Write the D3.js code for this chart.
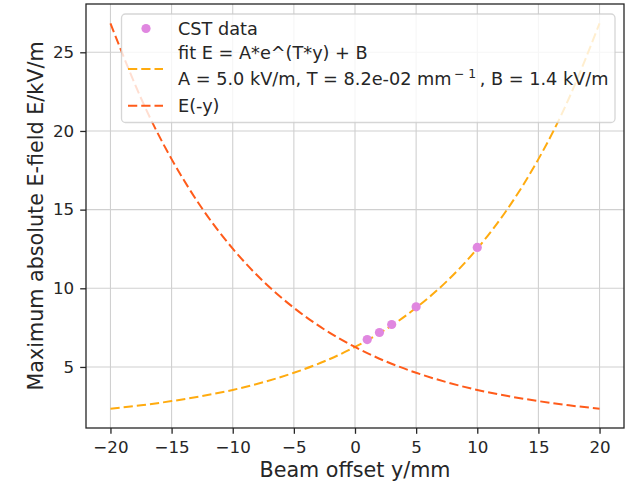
<!DOCTYPE html>
<html><head><meta charset="utf-8">
<script src="https://cdn.jsdelivr.net/npm/d3@7"></script>
<style>body{margin:0;background:#fff}svg{display:block}text{font-family:"DejaVu Sans",sans-serif;fill:#262626}</style>
</head><body><svg id="c" width="628" height="487"></svg>
<script>
// CST data points
const cstX = [1, 2, 3, 5, 10];
const cstY = [6.74, 7.19, 7.70, 8.82, 12.60];
// fit curve
const fitX = [-20,-17.5,-15,-12.5,-10,-7.5,-5,-2.5,0,2.5,5,7.5,10,12.5,15,17.5,20];
const fitY = [2.35,2.56,2.83,3.15,3.54,4.03,4.63,5.36,6.27,7.38,8.76,10.44,12.52,15.07,18.21,22.08,26.84];
// mirrored curve E(-y)
const mirY = [26.84,22.08,18.21,15.07,12.52,10.44,8.76,7.38,6.27,5.36,4.63,4.03,3.54,3.15,2.83,2.56,2.35];
const xTicks = [-20,-15,-10,-5,0,5,10,15,20];
const yTicks = [5,10,15,20,25];
const legendLabels = ["CST data", "fit E = A*e^(T*y) + B", "E(-y)"];

const svg = d3.select("#c");
const L=86, R=624, T=4, B=428;
const x = d3.scaleLinear().domain([-22,22]).range([L,R]);
const y = d3.scaleLinear().domain([1.12,28.07]).range([B,T]);
const fmt = d => (d<0?"\u2212":"")+Math.abs(d);

// grid
svg.append("g").selectAll("line").data(xTicks).join("line")
  .attr("x1",d=>x(d)).attr("x2",d=>x(d)).attr("y1",T).attr("y2",B)
  .attr("stroke","#d0d0d0").attr("stroke-width",1.1);
svg.append("g").selectAll("line").data(yTicks).join("line")
  .attr("y1",d=>y(d)).attr("y2",d=>y(d)).attr("x1",L).attr("x2",R)
  .attr("stroke","#d0d0d0").attr("stroke-width",1.1);

const line = d3.line().curve(d3.curveNatural);
const fitPts = fitX.map((v,i)=>[x(v),y(fitY[i])]);
const mirPts = fitX.map((v,i)=>[x(v),y(mirY[i])]);
const cFit = "#ffab0f", cMir = "#ff5b1a", cPt = "#e087e0";
svg.append("path").attr("d",line(fitPts)).attr("fill","none").attr("stroke",cFit)
  .attr("stroke-width",2).attr("stroke-dasharray","9.25,4");
svg.append("path").attr("d",line(mirPts)).attr("fill","none").attr("stroke",cMir)
  .attr("stroke-width",2).attr("stroke-dasharray","9.25,4");
svg.append("g").selectAll("circle").data(cstX).join("circle")
  .attr("cx",d=>x(d)).attr("cy",(d,i)=>y(cstY[i])).attr("r",4.6).attr("fill",cPt);

// axes
const xa = d3.axisBottom(x).tickValues(xTicks).tickFormat(fmt).tickSize(5.8).tickPadding(7.5);
const ya = d3.axisLeft(y).tickValues(yTicks).tickFormat(fmt).tickSize(5.8).tickPadding(6);
const gx = svg.append("g").attr("transform",`translate(0,${B})`).call(xa);
const gy = svg.append("g").attr("transform",`translate(${L},0)`).call(ya);
[gx,gy].forEach(g=>{
  g.select(".domain").remove();
  g.selectAll("line").attr("stroke","#262626").attr("stroke-width",1.3);
  g.selectAll("text").attr("font-size",16.7).attr("font-family","DejaVu Sans").attr("fill","#262626");
});
svg.append("rect").attr("x",L).attr("y",T).attr("width",R-L).attr("height",B-T)
  .attr("fill","none").attr("stroke","#262626").attr("stroke-width",1.3);

svg.append("text").attr("x",(L+R)/2).attr("y",477).attr("text-anchor","middle")
  .attr("font-size",20.7).text("Beam offset y/mm");
svg.append("text").attr("transform",`translate(43,${(T+B)/2}) rotate(-90)`).attr("text-anchor","middle")
  .attr("font-size",20.7).text("Maximum absolute E-field E/kV/m");

// legend
const lg = svg.append("g");
lg.append("rect").attr("x",121.5).attr("y",14).attr("width",493.5).attr("height",108.5).attr("rx",4)
  .attr("fill","#fff").attr("fill-opacity",0.8).attr("stroke","#cccccc").attr("stroke-opacity",0.8).attr("stroke-width",1.3);
lg.append("circle").attr("cx",146).attr("cy",28.5).attr("r",4.6).attr("fill",cPt);
lg.append("line").attr("x1",128).attr("x2",163).attr("y1",69).attr("y2",69).attr("stroke",cFit)
  .attr("stroke-width",2).attr("stroke-dasharray","9.25,4");
lg.append("line").attr("x1",128).attr("x2",163).attr("y1",105.7).attr("y2",105.7).attr("stroke",cMir)
  .attr("stroke-width",2).attr("stroke-dasharray","9.25,4");
const fs = 17.7;
lg.append("text").attr("x",178).attr("y",34.5).attr("font-size",fs).text(legendLabels[0]);
lg.append("text").attr("x",178).attr("y",59).attr("font-size",fs).text(legendLabels[1]);
const t2 = lg.append("text").attr("x",178).attr("y",84.5).attr("font-size",fs);
t2.append("tspan").text("A = 5.0 kV/m, T = 8.2e-02 mm");
t2.append("tspan").attr("dx",2.5).attr("dy",-7).attr("font-size",12.3).text("\u2212");
t2.append("tspan").attr("dx",4).attr("font-size",12.3).text("1");
t2.append("tspan").attr("dx",3.5).attr("dy",7).text(", B = 1.4 kV/m");
lg.append("text").attr("x",178).attr("y",111.5).attr("font-size",fs).text(legendLabels[2]);
</script></body></html>
